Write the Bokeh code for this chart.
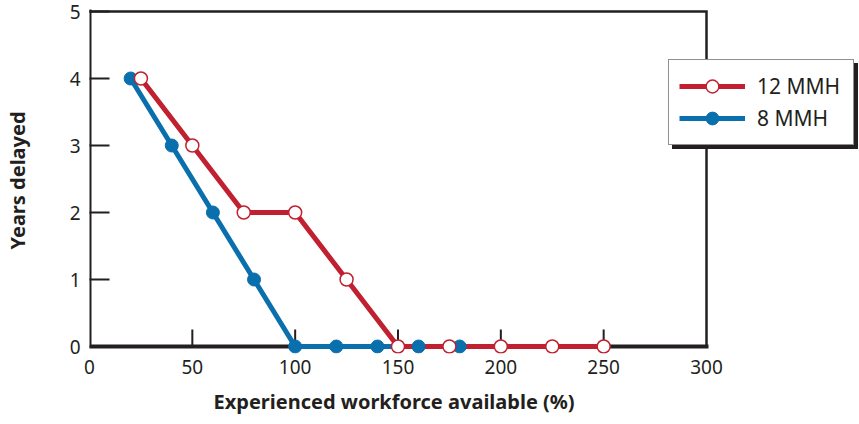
from bokeh.plotting import figure
from bokeh.models import Legend, LegendItem, FixedTicker, Range1d, Title
from bokeh.embed import file_html
from bokeh.resources import INLINE

# Data
x_8mmh = [20, 40, 60, 80, 100, 120, 140, 160, 180]
y_8mmh = [4, 3, 2, 1, 0, 0, 0, 0, 0]
x_12mmh = [25, 50, 75, 100, 125, 150, 175, 200, 225, 250]
y_12mmh = [4, 3, 2, 2, 1, 0, 0, 0, 0, 0]
x_ticks = [0, 50, 100, 150, 200, 250, 300]
y_ticks = [0, 1, 2, 3, 4, 5]
labels = ["12 MMH", "8 MMH"]
x_title = "Experienced workforce available (%)"
y_title = "Years delayed"

RED = "#c0202f"
BLUE = "#0a6fad"
DARK = "#231f20"
FONT = "Noto Sans"

# pixel geometry of the drawn box (0..300 x 0..5)
PX_X = 617 / 300.0
PX_Y = 335 / 5.0
X0, X1 = x_ticks[0], x_ticks[-1]
Y0, Y1 = y_ticks[0], y_ticks[-1]
FRAME_RIGHT_EXTRA = 153   # px beyond x=300 (room for the legend)
FRAME_TOP_EXTRA = 4       # px above y=5
FRAME_BOTTOM_EXTRA = 7    # px below y=0
BOTTOM_BORDER = 71
X_TICK_LEN = 17           # px

p = figure(width=859, height=424, output_backend="svg", toolbar_location=None,
           x_range=Range1d(X0, X1 + FRAME_RIGHT_EXTRA / PX_X),
           y_range=Range1d(Y0 - FRAME_BOTTOM_EXTRA / PX_Y, Y1 + FRAME_TOP_EXTRA / PX_Y),
           min_border_left=89, min_border_right=0, min_border_top=7,
           min_border_bottom=BOTTOM_BORDER)
p.grid.visible = False
p.outline_line_color = None
p.background_fill_color = "white"
p.border_fill_color = "white"

for ax in (p.xaxis[0], p.yaxis[0]):
    ax.axis_line_color = None
    ax.major_tick_line_color = DARK
    ax.major_tick_line_width = 2
    ax.major_tick_out = 0
    ax.minor_tick_line_color = None
    ax.major_label_text_font = FONT
    ax.major_label_text_font_size = "19px"
    ax.major_label_text_color = DARK
    ax.axis_label_text_font = FONT
    ax.axis_label_text_font_style = "bold"
    ax.axis_label_text_font_size = "20px"
    ax.axis_label_text_color = DARK

p.xaxis.ticker = FixedTicker(ticks=x_ticks)
p.yaxis.ticker = FixedTicker(ticks=y_ticks)
p.xaxis.major_tick_line_color = None
p.xaxis.major_tick_in = 0
p.xaxis.major_label_standoff = 6
p.xaxis.major_label_text_line_height = 0.9
p.yaxis.major_tick_in = 20
p.yaxis.major_label_standoff = 9
p.yaxis.axis_label = y_title
p.yaxis.axis_label_standoff = 36

xt = Title(text=x_title, align="left", offset=124, standoff=18,
           text_font=FONT, text_font_style="bold", text_font_size="20px",
           text_color=DARK, text_line_height=0.8)
p.add_layout(xt, "below")

# box around the chart area
p.line([X0, X0, X1], [Y1, Y0, Y0], line_color=DARK, line_width=4,
       line_join="miter", line_cap="square")
p.line([X0, X1, X1], [Y1, Y1, Y0], line_color=DARK, line_width=2.5,
       line_join="miter", line_cap="square")
# inward x-axis tick marks
p.segment(x0=x_ticks[1:-1], y0=[Y0] * (len(x_ticks) - 2),
          x1=x_ticks[1:-1], y1=[Y0 + X_TICK_LEN / PX_Y] * (len(x_ticks) - 2),
          line_color=DARK, line_width=2)

l8 = p.line(x_8mmh, y_8mmh, line_color=BLUE, line_width=5)
l12 = p.line(x_12mmh, y_12mmh, line_color=RED, line_width=5)
s8 = p.scatter(x_8mmh, y_8mmh, marker="circle", size=13, fill_color=BLUE, line_color=BLUE)
s12 = p.scatter(x_12mmh, y_12mmh, marker="circle", size=13, fill_color="white",
                line_color=RED, line_width=1.5)

def make_legend(loc, shadow=False):
    lbls = [" ", " "] if shadow else labels
    lg = Legend(items=[LegendItem(label=lbls[0], renderers=[l12, s12]),
                       LegendItem(label=lbls[1], renderers=[l8, s8])],
                location=loc)
    lg.glyph_width = 66
    lg.glyph_height = 32
    lg.label_height = 20
    lg.label_width = 86
    lg.label_standoff = 12
    lg.spacing = 0
    lg.padding = 10
    lg.margin = 0
    lg.label_text_font = FONT
    lg.label_text_font_size = "21px"
    lg.label_text_color = DARK
    lg.label_text_baseline = "middle"
    lg.border_line_color = DARK
    lg.border_line_width = 1.5
    lg.background_fill_color = "white"
    lg.background_fill_alpha = 1
    if shadow:
        lg.background_fill_color = DARK
    return lg

# legend position relative to the frame's bottom-left corner (px)
LEG_X = 579
LEG_Y = 424 - BOTTOM_BORDER - 145
p.add_layout(make_legend((LEG_X + 4, LEG_Y - 4), shadow=True), "center")
p.add_layout(make_legend((LEG_X, LEG_Y)), "center")

open("out.html", "w").write(file_html(p, INLINE))
